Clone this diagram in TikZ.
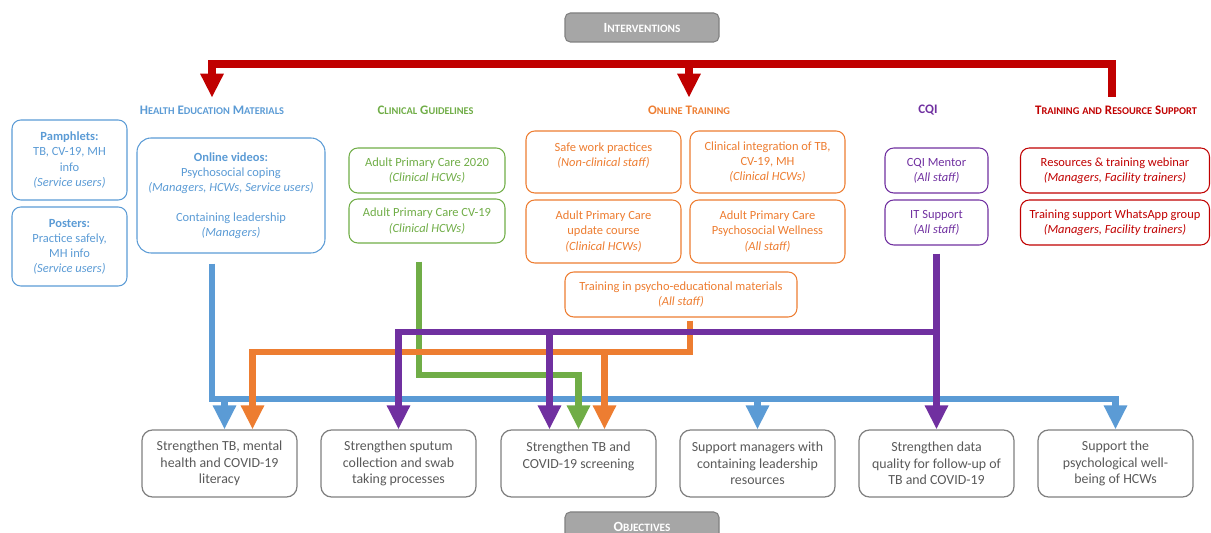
\documentclass[tikz,border=0pt]{standalone}
\usepackage{fontspec}
\setmainfont{Carlito}
\usepackage{tikz}
\usetikzlibrary{arrows.meta, positioning, calc}
\definecolor{hblue}{HTML}{5B9BD5}
\definecolor{hgreen}{HTML}{70AD47}
\definecolor{horange}{HTML}{ED7D31}
\definecolor{hpurple}{HTML}{7030A0}
\definecolor{hred}{HTML}{C00000}
\definecolor{taggray}{HTML}{A6A6A6}
\definecolor{tagborder}{HTML}{808080}
\definecolor{objtext}{HTML}{595959}
\newcommand{\capw}[2]{#1{\fontsize{5.9}{7}\selectfont #2}}
\newcommand{\tagw}[2]{#1{\fontsize{6.4}{7}\selectfont #2}}

\begin{document}
\begin{tikzpicture}[x=0.02cm, y=-0.02cm, font=\fontsize{7.1}{8.6}\selectfont]
	\tikzset{sz/.style 2 args={minimum width=#1*0.02cm, minimum height=#2*0.02cm}}
	\tikzset{catbox/.style={draw=#1, text=#1, rounded corners=5pt, line width=0.6pt, align=center, inner sep=1pt}}
	\tikzset{objbox/.style={draw=tagborder, text=objtext, rounded corners=6pt, line width=0.7pt, align=center, sz={155}{67}, font=\fontsize{7.9}{9.5}\selectfont}}
	\tikzset{heading/.style={text=#1, inner sep=4.4pt, font=\bfseries\fontsize{7.4}{8}\selectfont}}
	\tikzset{tag/.style={draw=tagborder, fill=taggray, text=white, rounded corners=3pt, line width=0.6pt, sz={154}{29}, font=\bfseries\fontsize{8}{9}\selectfont}}
	\tikzset{flow/.style={draw=#1, line width=0.13cm, line join=miter}}
	\tikzset{flowtip/.style={flow=#1, -{Triangle[length=0.48cm, width=0.44cm]}}}
	\useasboundingbox (0,0) rectangle (1211,533);
	\clip (0,0) rectangle (1211,533);

	% labels top and bottom
	\node[tag] (interv) at (642,27.5) {\tagw{I}{NTERVENTIONS}};
	\node[tag] (objtag) at (642,526.5) {\tagw{O}{BJECTIVES}};

	% headings
	\node[heading=hblue] (hem) at (212,110) {\capw{H}{EALTH} \capw{E}{DUCATION} \capw{M}{ATERIALS}};
	\node[heading=hgreen] (cg) at (425.5,110) {\capw{C}{LINICAL} \capw{G}{UIDELINES}};
	\node[heading=horange] (ot) at (689,110) {\capw{O}{NLINE} \capw{T}{RAINING}};
	\node[heading=hpurple] (cqi) at (928,110) {CQI};
	\node[heading=hred] (trs) at (1116,110) {\capw{T}{RAINING} {\fontsize{5.9}{7}\selectfont AND} \capw{R}{ESOURCE} \capw{S}{UPPORT}};

	% health education materials
	\node[catbox=hblue, sz={115}{80}] (pamph) at (69.5,160) {\textbf{Pamphlets:}\\TB, CV-19, MH\\info\\\textit{(Service users)}};
	\node[catbox=hblue, sz={115}{79}] (poster) at (69.5,246.5) {\textbf{Posters:}\\Practice safely,\\MH info\\\textit{(Service users)}};
	\node[catbox=hblue, sz={188}{115}, rounded corners=8pt] (videos) at (231,195.5) {\textbf{Online videos:}\\Psychosocial coping\\\textit{(Managers, HCWs, Service users)}\\[8.6pt]Containing leadership\\\textit{(Managers)}};

	% clinical guidelines
	\node[catbox=hgreen, sz={156}{45}] (apc20) at (427,170.5) {Adult Primary Care 2020\\\textit{(Clinical HCWs)}};
	\node[catbox=hgreen, sz={156}{44}] (apccv) at (427,221) {Adult Primary Care CV-19\\\textit{(Clinical HCWs)}};

	% online training
	\node[catbox=horange, sz={155}{62}] (safe) at (603.5,162) {Safe work practices\\\textit{(Non-clinical staff)}\\~};
	\node[catbox=horange, sz={155}{62}] (clinint) at (767.5,162) {Clinical integration of TB,\\CV-19, MH\\\textit{(Clinical HCWs)}};
	\node[catbox=horange, sz={155}{63}] (apcupd) at (603.5,231.5) {Adult Primary Care\\update course\\\textit{(Clinical HCWs)}};
	\node[catbox=horange, sz={155}{63}] (apcpsy) at (767.5,231.5) {Adult Primary Care\\Psychosocial Wellness\\\textit{(All staff)}};
	\node[catbox=horange, sz={232}{45}] (psyed) at (681,294.5) {Training in psycho-educational materials\\\textit{(All staff)}};

	% cqi
	\node[catbox=hpurple, sz={103}{45}] (mentor) at (936.5,170.5) {CQI Mentor\\\textit{(All staff)}};
	\node[catbox=hpurple, sz={103}{45}] (itsup) at (936.5,222.5) {IT Support\\\textit{(All staff)}};

	% training and resource support
	\node[catbox=hred, sz={189}{45}] (webinar) at (1115,170.5) {Resources \& training webinar\\\textit{(Managers, Facility trainers)}};
	\node[catbox=hred, sz={189}{45}] (whatsapp) at (1115,222.5) {Training support WhatsApp group\\\textit{(Managers, Facility trainers)}};

	% objectives
	\node[objbox] (obj1) at (219.5,463.5) {Strengthen TB, mental\\health and COVID-19\\literacy};
	\node[objbox] (obj2) at (398.5,463.5) {Strengthen sputum\\collection and swab\\taking processes};
	\node[objbox] (obj3) at (578.5,463.5) {Strengthen TB and\\COVID-19 screening\\~};
	\node[objbox] (obj4) at (757.5,463.5) {Support managers with\\containing leadership\\resources};
	\node[objbox] (obj5) at (936.5,463.5) {Strengthen data\\quality for follow-up of\\TB and COVID-19};
	\node[objbox] (obj6) at (1115.5,463.5) {Support the\\psychological well-\\being of HCWs};

	% red bus to the categories
	\coordinate (rbus) at (0,64);
	\coordinate (rend) at (1112,97);
	\draw[flowtip=hred, line width=0.16cm] (rend) |- (hem.north |- rbus) -- (hem.north);
	\draw[flowtip=hred, line width=0.16cm] (ot.north |- rbus) -- (ot.north);

	% arrow ends beside the centres
	\coordinate (a1) at ($(obj1.north)+(5,0)$);
	\coordinate (a2) at ($(obj1.north)+(33,0)$);
	\coordinate (a3) at ($(obj3.north)+(-29,0)$);
	\coordinate (a4) at ($(obj3.north)+(26,0)$);

	% blue
	\coordinate (bstart) at ($(videos.south)+(-19,10)$);
	\coordinate (bbus) at (0,399);
	\draw[flowtip=hblue] (bstart) |- (bbus -| obj6.north) -- (obj6.north);
	\draw[flowtip=hblue] (a1 |- bbus) -- (a1);
	\draw[flowtip=hblue] (obj4.north |- bbus) -- (obj4.north);

	% green
	\coordinate (gstart) at ($(apccv.south)+(-8,18)$);
	\coordinate (gbus) at (0,375);
	\draw[flowtip=hgreen] (gstart) |- (gbus -| obj3.north) -- (obj3.north);

	% orange
	\coordinate (ostart) at ($(psyed.south)+(9,3)$);
	\coordinate (obus) at (0,352);
	\draw[flowtip=horange] (ostart) |- (obus -| a2) -- (a2);
	\draw[flowtip=horange] (a4 |- obus) -- (a4);

	% purple
	\coordinate (pstart) at ($(itsup.south)+(0,8)$);
	\coordinate (pbus) at (0,332);
	\draw[flowtip=hpurple] (pstart) -- (obj5.north);
	\draw[flowtip=hpurple] (pstart |- pbus) -| (obj2.north);
	\draw[flowtip=hpurple] (a3 |- pbus) -- (a3);
\end{tikzpicture}
\end{document}
